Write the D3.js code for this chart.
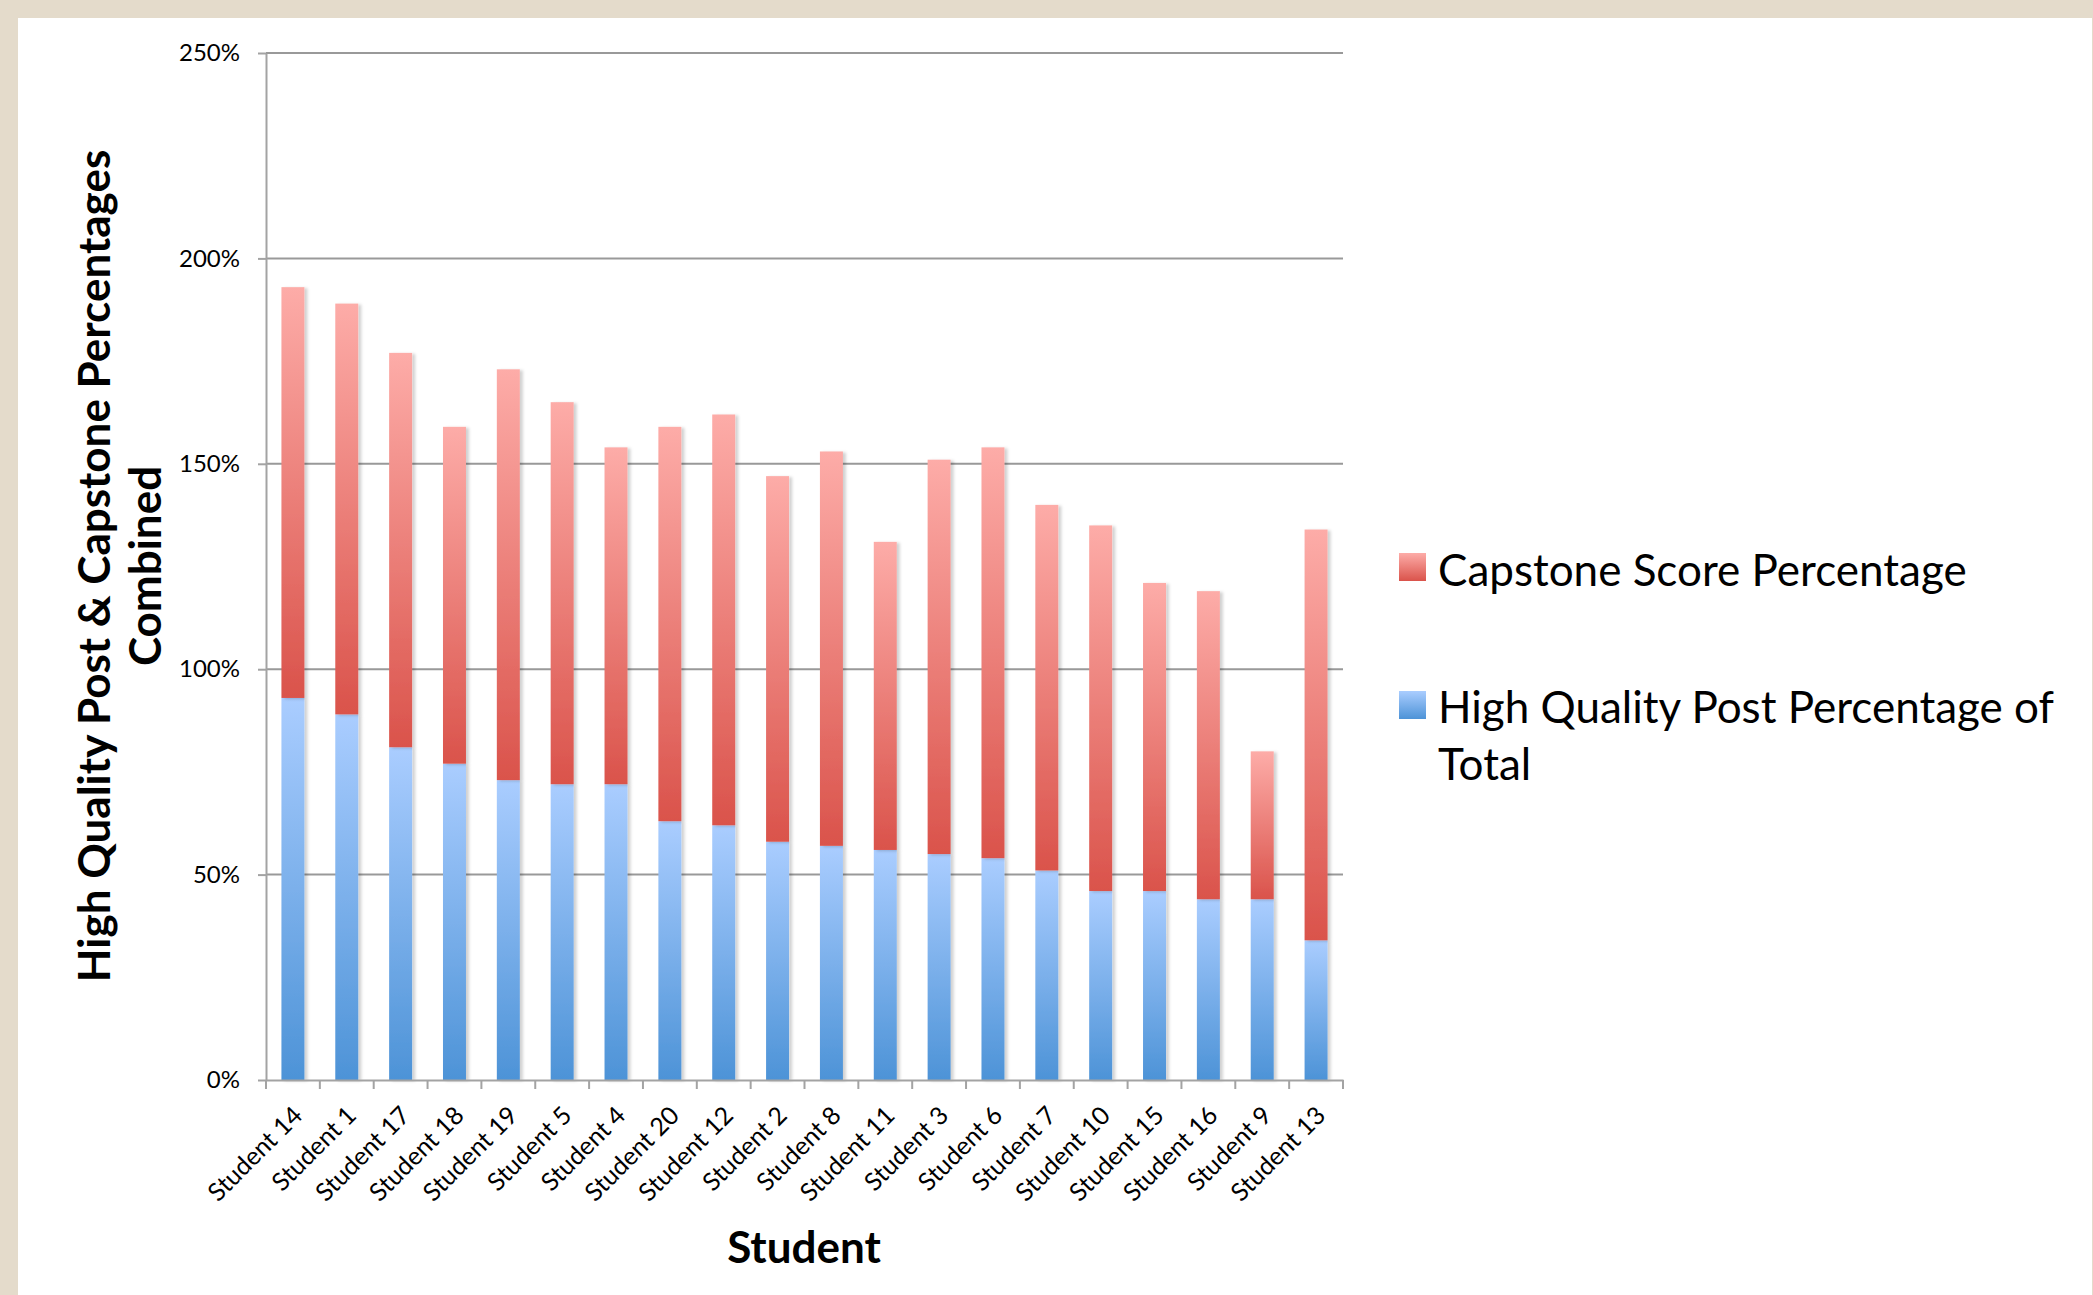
<!DOCTYPE html>
<meta charset="utf-8">
<style>

	body {
		margin: 0;
		background: #e4dbcb;
	}

	svg {
		display: block;
	}

	.grid line {
		stroke: #999;
		stroke-width: 2px;
	}

	.axis path, .axis line {
		stroke: #a3a3a3;
		stroke-width: 2px;
	}

	.axis text {
		font: 24px Lato, "Open Sans", sans-serif;
		fill: #000;
	}

	.xaxis text {
		font-size: 25px;
	}

	.title {
		font: bold 44px Lato, "Open Sans", sans-serif;
		fill: #000;
	}

	.legend text {
		font: 44px Lato, "Open Sans", sans-serif;
		fill: #000;
	}

</style>
<body>
	<script src="https://cdn.jsdelivr.net/npm/d3@7"></script>
	<script>

	// Students, in the order the chart shows them
	var students = ["Student 14", "Student 1", "Student 17", "Student 18", "Student 19",
		"Student 5", "Student 4", "Student 20", "Student 12", "Student 2",
		"Student 8", "Student 11", "Student 3", "Student 6", "Student 7",
		"Student 10", "Student 15", "Student 16", "Student 9", "Student 13"];

	// bottom segment (blue)
	var postPct = [93, 89, 81, 77, 73, 72, 72, 63, 62, 58, 57, 56, 55, 54, 51, 46, 46, 44, 44, 34];

	// top segment (red)
	var capstonePct = [100, 100, 96, 82, 100, 93, 82, 96, 100, 89, 96, 75, 96, 100, 89, 89, 75, 75, 36, 100];

	var yTicks = [0, 50, 100, 150, 200, 250];

	var seriesNames = ["High Quality Post Percentage of Total", "Capstone Score Percentage"];

	var width = 2093,
			height = 1295;

	var svg = d3.select("body").append("svg")
			.attr("width", width)
			.attr("height", height);

	// white sheet on the beige page
	svg.append("rect")
			.attr("x", 18)
			.attr("y", 18)
			.attr("width", 2074)
			.attr("height", height - 18)
			.attr("fill", "#fff");

	var defs = svg.append("defs");

	function addGradient(id, top, bottom) {
		var g = defs.append("linearGradient")
				.attr("id", id)
				.attr("x1", 0).attr("y1", 0)
				.attr("x2", 0).attr("y2", 1);
		g.append("stop").attr("offset", "0%").attr("stop-color", top);
		g.append("stop").attr("offset", "100%").attr("stop-color", bottom);
	}
	addGradient("gradBlue", "#aacdff", "#4d93d7");
	addGradient("gradRed", "#fdaca8", "#da534b");

	// soft shadow to the right of the bars
	var shadow = defs.append("filter")
			.attr("id", "shadow")
			.attr("x", "-20%").attr("y", "-5%")
			.attr("width", "150%").attr("height", "110%");
	shadow.append("feDropShadow")
			.attr("dx", 3).attr("dy", 1)
			.attr("stdDeviation", 1.5)
			.attr("flood-color", "#000")
			.attr("flood-opacity", 0.18);

	var x = d3.scaleBand()
			.domain(students)
			.range([266, 1343])
			.paddingInner(0.573)
			.paddingOuter(0.2865);

	var y = d3.scaleLinear()
			.domain([0, 250])
			.range([1080, 53]);

	// gridlines
	svg.append("g")
			.attr("class", "grid")
		.selectAll("line")
		.data(yTicks.filter(function(d) { return d > 0; }))
		.enter().append("line")
			.attr("x1", 266)
			.attr("x2", 1343)
			.attr("y1", function(d) { return y(d); })
			.attr("y2", function(d) { return y(d); });

	// stack the two series
	var table = students.map(function(s, i) {
		return {student: s, post: postPct[i], capstone: capstonePct[i]};
	});
	var stack = d3.stack().keys(["post", "capstone"]);
	var fills = {post: "url(#gradBlue)", capstone: "url(#gradRed)"};

	svg.append("g")
			.attr("class", "bars")
		.selectAll("g")
		.data(stack(table))
		.enter().append("g")
			.attr("fill", function(d) { return fills[d.key]; })
			.attr("filter", "url(#shadow)")
		.selectAll("rect")
		.data(function(d) { return d; })
		.enter().append("rect")
			.attr("x", function(d) { return x(d.data.student); })
			.attr("width", x.bandwidth())
			.attr("y", function(d) { return y(d[1]); })
			.attr("height", function(d) { return y(d[0]) - y(d[1]); });

	// y axis
	svg.append("g")
			.attr("class", "axis")
			.attr("transform", "translate(266,0)")
			.call(d3.axisLeft(y)
				.tickValues(yTicks)
				.tickFormat(function(d) { return d + "%"; })
				.tickSize(8)
				.tickSizeOuter(0)
				.tickPadding(18));

	// x axis, labels turned 45 degrees
	var xAxis = svg.append("g")
			.attr("class", "axis xaxis")
			.attr("transform", "translate(0,1080)")
			.call(d3.axisBottom(x).tickSize(0).tickSizeOuter(0));

	xAxis.selectAll(".tick text")
			.attr("x", 0)
			.attr("y", 0)
			.attr("dy", 0)
			.attr("text-anchor", "end")
			.attr("transform", "translate(11,37) rotate(-45)");

	// tick marks sit between the categories
	xAxis.selectAll(".sep")
		.data(d3.range(students.length + 1))
		.enter().append("line")
			.attr("class", "sep")
			.attr("x1", function(i) { return x.range()[0] + i * x.step(); })
			.attr("x2", function(i) { return x.range()[0] + i * x.step(); })
			.attr("y1", 0)
			.attr("y2", 9);

	// axis titles
	svg.append("text")
			.attr("class", "title")
			.attr("text-anchor", "middle")
			.attr("transform", "translate(110,566) rotate(-90)")
			.text("High Quality Post & Capstone Percentages");

	svg.append("text")
			.attr("class", "title")
			.attr("text-anchor", "middle")
			.attr("transform", "translate(161,566) rotate(-90)")
			.text("Combined");

	svg.append("text")
			.attr("class", "title")
			.attr("text-anchor", "middle")
			.attr("x", 804)
			.attr("y", 1263)
			.text("Student");

	// legend
	var legend = svg.append("g").attr("class", "legend");

	legend.append("rect")
			.attr("x", 1399).attr("y", 553)
			.attr("width", 27).attr("height", 28)
			.attr("fill", "url(#gradRed)");
	legend.append("text")
			.attr("x", 1438).attr("y", 586)
			.text(seriesNames[1]);

	legend.append("rect")
			.attr("x", 1399).attr("y", 691)
			.attr("width", 27).attr("height", 28)
			.attr("fill", "url(#gradBlue)");
	var blueLabel = legend.append("text")
			.attr("x", 1438).attr("y", 723);
	blueLabel.append("tspan")
			.attr("x", 1438)
			.text("High Quality Post Percentage of");
	blueLabel.append("tspan")
			.attr("x", 1438)
			.attr("dy", 57)
			.text("Total");

</script>
</body>
</html>
